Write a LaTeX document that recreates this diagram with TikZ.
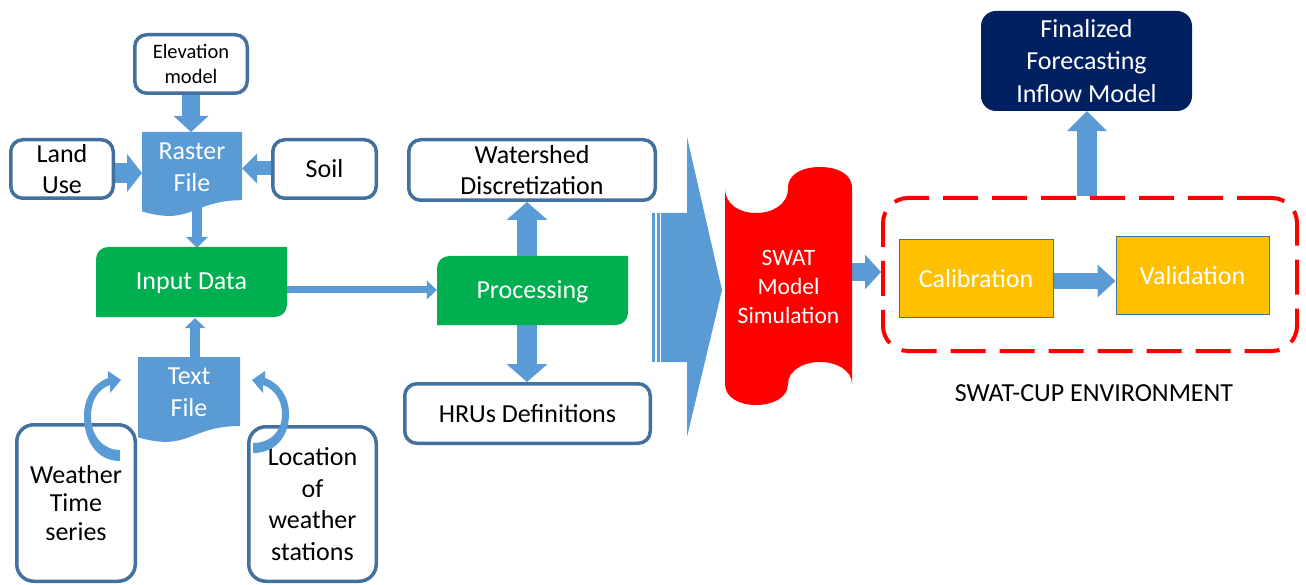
\documentclass[tikz,border=0pt]{standalone}
\usepackage{fontspec}
\setmainfont{Carlito}
\usetikzlibrary{arrows.meta,backgrounds,calc}
\definecolor{bfill}{RGB}{91,155,213}
\definecolor{bline}{RGB}{65,113,156}
\definecolor{gfill}{RGB}{0,176,80}
\definecolor{ofill}{RGB}{255,192,0}
\definecolor{nfill}{RGB}{0,32,96}
\definecolor{rfill}{RGB}{255,0,0}
\newcommand\FBig{\fontsize{26}{31.7}\selectfont}
\newcommand\FSmall{\fontsize{20.5}{25}\selectfont}
\newcommand\FMid{\fontsize{23.5}{29}\selectfont}
\begin{document}
\begin{tikzpicture}[x=1pt,y=-1pt,
  wbox/.style={draw=bline, line width=3.5pt, fill=white, rounded corners=12pt, align=center, inner sep=0pt, font=\FBig, text=black},
  cbox/.style={draw=bline, line width=1pt, fill=ofill, align=center, inner sep=0pt, font=\FBig, text=white},
  txt/.style={align=center, inner sep=0pt, font=\FBig},
  blk/.style n args={3}{draw=bfill, line width=#1, -{Triangle[width=#2,length=#3,line width=0pt]}}
]
\useasboundingbox (0,0) rectangle (1306,585);

% ---------- left part: input boxes ----------
\node[wbox, minimum width=112.5pt, minimum height=58.5pt, font=\FSmall] (elev) at (191,64) {Elevation\\model};
\node[wbox, minimum width=102.5pt, minimum height=58.5pt] (land) at (62,169) {Land\\Use};
\node[wbox, minimum width=103.5pt, minimum height=58.5pt] (soil) at (324.5,169) {Soil};
\node[wbox, rounded corners=17pt, minimum width=118.5pt, minimum height=156.5pt, font=\fontsize{26}{28.5}\selectfont] (weather) at (76,503) {Weather\\Time\\series};
\node[wbox, rounded corners=17pt, minimum width=127.5pt, minimum height=154.5pt] (location) at (312.5,504) {Location\\of\\weather\\stations};

% Raster File (document shape)
\fill[bfill] (142,132) -- (242,132) -- (242,200.2) .. controls (192,200.2) and (192,226.1) .. (142,211.4) -- cycle;
\node[txt, text=white] (raster) at (192,167) {Raster\\File};
\coordinate (rasterN) at (191,132);
\coordinate (rasterW) at (142,173);
\coordinate (rasterE) at (242,168.5);
\coordinate (rasterS) at (197,204);

% Text File (document shape)
\fill[bfill] (138,357) -- (240,357) -- (240,426) .. controls (189,426) and (189,452.2) .. (138,437.3) -- cycle;
\node[txt, text=white] (textfile) at (189,392) {Text\\File};
\coordinate (textN) at (195,357);

% Input Data
\fill[gfill] (96,317) -- (96,259) .. controls (96,252.4) and (101.4,247) .. (108,247) -- (287,247) -- (287,305) .. controls (287,311.6) and (281.6,317) .. (275,317) -- cycle;
\node[txt, text=white, minimum width=191pt, minimum height=70pt] (input) at (191.5,283) {Input Data};
\coordinate (ip) at (287,290);

% Processing
\fill[gfill] (437,325) -- (437,268) .. controls (437,261.4) and (442.4,256) .. (449,256) -- (628,256) -- (628,313) .. controls (628,319.6) and (622.6,325) .. (616,325) -- cycle;
\node[txt, text=white, minimum width=191pt, minimum height=69pt] (proc) at (532.5,292) {Processing};
\coordinate (pu) at (527,256);
\coordinate (pd) at (527,325);

\node[wbox, minimum width=246.5pt, minimum height=60.5pt] (ws) at (532,170) {Watershed\\Discretization};
\node[wbox, minimum width=245.5pt, minimum height=59.5pt] (hrus) at (527.5,413.5) {HRUs Definitions};

% big striped arrow
\fill[bfill] (661,213) -- (687,213) -- (687,137) -- (722,290) -- (687,437) -- (687,362) -- (661,362) -- cycle;
\fill[bfill] (652,213) rectangle (655,362);
\fill[bfill] (657,213) rectangle (659.5,362);

% SWAT model (punched tape)
\fill[rfill] (725,188) .. controls (725,205) and (740,213) .. (756,213) .. controls (772,213) and (788,205) .. (788,188)
  .. controls (788,173) and (804,167) .. (820,167) .. controls (836,167) and (852,173) .. (852,188)
  -- (852,384) .. controls (852,370) and (836,362) .. (820,362) .. controls (804,362) and (788,370) .. (788,384)
  .. controls (788,398) and (772,405) .. (756,405) .. controls (740,405) and (725,398) .. (725,384) -- cycle;
\node[txt, text=white, font=\FMid] (swat) at (788.5,287) {SWAT\\Model\\Simulation};
\coordinate (swatE) at (852,272);

% SWAT-CUP environment
\node[draw=rfill, line width=4pt, dash pattern=on 35pt off 14pt, rounded corners=25pt, minimum width=414pt, minimum height=153pt, inner sep=0pt] (cup) at (1090,274.5) {};
\node[cbox, minimum width=154pt, minimum height=77pt] (cal) at (976,278.5) {Calibration};
\node[cbox, minimum width=153pt, minimum height=77pt] (val) at (1192.5,275.5) {Validation};
\node[txt] (cuplabel) at (1094,393) {SWAT-CUP ENVIRONMENT};
\coordinate (cv) at (1053,281);
\coordinate (cf) at (1087,196);

\node[fill=nfill, rounded corners=15pt, minimum width=211pt, minimum height=100pt, inner sep=0pt, align=center, text=white, font=\fontsize{26}{32.5}\selectfont] (final) at (1086.5,61) {Finalized\\Forecasting\\Inflow Model};

% ---------- connectors (behind) ----------
\begin{scope}[on background layer]
\draw[blk={18pt}{35pt}{16pt}] (elev.south) -- (rasterN);
\draw[blk={20pt}{38pt}{15pt}] (land.east |- rasterW) -- (rasterW);
\draw[blk={14pt}{30pt}{15pt}] (soil.west |- rasterE) -- (rasterE);
\draw[blk={10pt}{22pt}{11pt}] (rasterS) -- (rasterS |- input.north);
\draw[blk={10pt}{21pt}{10pt}] (textN) -- (textN |- input.south);
\draw[blk={7pt}{19pt}{10pt}] (ip) -- (ip -| proc.west);
\draw[blk={20pt}{41pt}{18pt}] (pu) -- (pu |- ws.south);
\draw[blk={20pt}{41pt}{18pt}] (pd) -- (pd |- hrus.north);
\draw[blk={18pt}{35pt}{16pt}] (swatE) -- (swatE -| cup.west);
\draw[blk={16pt}{33pt}{18pt}] (cv) -- (cv -| val.west);
\draw[blk={20pt}{40pt}{20pt}] (cf) -- (cf |- final.south);
\end{scope}

% curved arrows toward Text File
\fill[bfill] (120,461) .. controls (97,461) and (84,441) .. (84,416) .. controls (84,397) and (94,383) .. (108,378)
  -- (108,371) -- (121,380) -- (110,393) -- (110,385) .. controls (98,389) and (91,401) .. (91,416)
  .. controls (91,436) and (103,450) .. (120,450) -- cycle;
\fill[bfill] (253,453) .. controls (276,453) and (289,436) .. (289,414) .. controls (289,396) and (279,383) .. (265,378)
  -- (265,371) -- (252,380) -- (263,393) -- (263,385) .. controls (275,389) and (282,401) .. (282,414)
  .. controls (282,432) and (270,443) .. (253,443) -- cycle;
\end{tikzpicture}
\end{document}
